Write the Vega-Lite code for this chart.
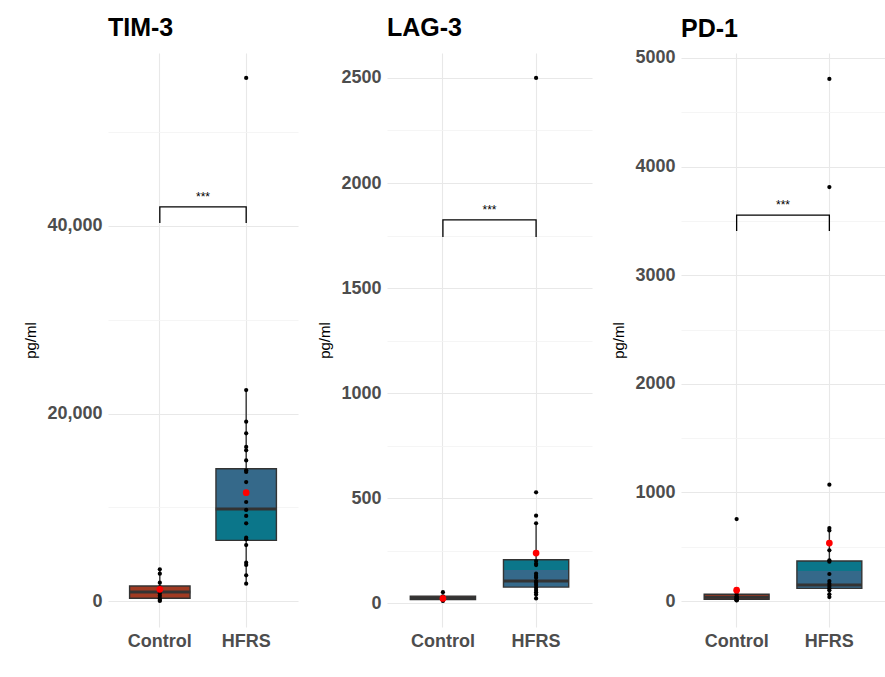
{
  "$schema": "https://vega.github.io/schema/vega-lite/v6.json",
  "background": "white",
  "padding": {"left": 23, "top": 16, "right": 0, "bottom": 0},
  "spacing": 19,
  "datasets": {
    "points": [
      {"m": "TIM-3", "g": "Control", "v": 3380}, {"m": "TIM-3", "g": "Control", "v": 2910}, {"m": "TIM-3", "g": "Control", "v": 1950}, {"m": "TIM-3", "g": "Control", "v": 1450}, {"m": "TIM-3", "g": "Control", "v": 1100}, {"m": "TIM-3", "g": "Control", "v": 800}, {"m": "TIM-3", "g": "Control", "v": 550}, {"m": "TIM-3", "g": "Control", "v": 300}, {"m": "TIM-3", "g": "Control", "v": 120}, {"m": "TIM-3", "g": "Control", "v": 0},
      {"m": "TIM-3", "g": "HFRS", "v": 55790}, {"m": "TIM-3", "g": "HFRS", "v": 22500}, {"m": "TIM-3", "g": "HFRS", "v": 19130}, {"m": "TIM-3", "g": "HFRS", "v": 17890}, {"m": "TIM-3", "g": "HFRS", "v": 16430}, {"m": "TIM-3", "g": "HFRS", "v": 16070}, {"m": "TIM-3", "g": "HFRS", "v": 15000}, {"m": "TIM-3", "g": "HFRS", "v": 13940}, {"m": "TIM-3", "g": "HFRS", "v": 13760}, {"m": "TIM-3", "g": "HFRS", "v": 12690}, {"m": "TIM-3", "g": "HFRS", "v": 10560}, {"m": "TIM-3", "g": "HFRS", "v": 9710}, {"m": "TIM-3", "g": "HFRS", "v": 9070}, {"m": "TIM-3", "g": "HFRS", "v": 8290}, {"m": "TIM-3", "g": "HFRS", "v": 6750}, {"m": "TIM-3", "g": "HFRS", "v": 6580}, {"m": "TIM-3", "g": "HFRS", "v": 5970}, {"m": "TIM-3", "g": "HFRS", "v": 4090}, {"m": "TIM-3", "g": "HFRS", "v": 3840}, {"m": "TIM-3", "g": "HFRS", "v": 2740}, {"m": "TIM-3", "g": "HFRS", "v": 1850},
      {"m": "LAG-3", "g": "Control", "v": 52}, {"m": "LAG-3", "g": "Control", "v": 32}, {"m": "LAG-3", "g": "Control", "v": 27}, {"m": "LAG-3", "g": "Control", "v": 24}, {"m": "LAG-3", "g": "Control", "v": 21}, {"m": "LAG-3", "g": "Control", "v": 18}, {"m": "LAG-3", "g": "Control", "v": 15}, {"m": "LAG-3", "g": "Control", "v": 12}, {"m": "LAG-3", "g": "Control", "v": 10},
      {"m": "LAG-3", "g": "HFRS", "v": 2500}, {"m": "LAG-3", "g": "HFRS", "v": 527}, {"m": "LAG-3", "g": "HFRS", "v": 416}, {"m": "LAG-3", "g": "HFRS", "v": 380}, {"m": "LAG-3", "g": "HFRS", "v": 200}, {"m": "LAG-3", "g": "HFRS", "v": 187}, {"m": "LAG-3", "g": "HFRS", "v": 181}, {"m": "LAG-3", "g": "HFRS", "v": 140}, {"m": "LAG-3", "g": "HFRS", "v": 129}, {"m": "LAG-3", "g": "HFRS", "v": 121}, {"m": "LAG-3", "g": "HFRS", "v": 105}, {"m": "LAG-3", "g": "HFRS", "v": 97}, {"m": "LAG-3", "g": "HFRS", "v": 86}, {"m": "LAG-3", "g": "HFRS", "v": 73}, {"m": "LAG-3", "g": "HFRS", "v": 62}, {"m": "LAG-3", "g": "HFRS", "v": 52}, {"m": "LAG-3", "g": "HFRS", "v": 41}, {"m": "LAG-3", "g": "HFRS", "v": 22},
      {"m": "PD-1", "g": "Control", "v": 755}, {"m": "PD-1", "g": "Control", "v": 62}, {"m": "PD-1", "g": "Control", "v": 45}, {"m": "PD-1", "g": "Control", "v": 35}, {"m": "PD-1", "g": "Control", "v": 25}, {"m": "PD-1", "g": "Control", "v": 18}, {"m": "PD-1", "g": "Control", "v": 12}, {"m": "PD-1", "g": "Control", "v": 8}, {"m": "PD-1", "g": "Control", "v": 5},
      {"m": "PD-1", "g": "HFRS", "v": 4807}, {"m": "PD-1", "g": "HFRS", "v": 3812}, {"m": "PD-1", "g": "HFRS", "v": 1071}, {"m": "PD-1", "g": "HFRS", "v": 672}, {"m": "PD-1", "g": "HFRS", "v": 650}, {"m": "PD-1", "g": "HFRS", "v": 467}, {"m": "PD-1", "g": "HFRS", "v": 375}, {"m": "PD-1", "g": "HFRS", "v": 362}, {"m": "PD-1", "g": "HFRS", "v": 249}, {"m": "PD-1", "g": "HFRS", "v": 184}, {"m": "PD-1", "g": "HFRS", "v": 160}, {"m": "PD-1", "g": "HFRS", "v": 138}, {"m": "PD-1", "g": "HFRS", "v": 117}, {"m": "PD-1", "g": "HFRS", "v": 99}, {"m": "PD-1", "g": "HFRS", "v": 62}, {"m": "PD-1", "g": "HFRS", "v": 37}
    ],
    "boxes": [
      {"m": "TIM-3", "g": "Control", "lo": 0, "q1": 290, "med": 960, "q3": 1600, "hi": 3380, "mean": 1250},
      {"m": "TIM-3", "g": "HFRS", "lo": 1850, "q1": 6470, "med": 9810, "q3": 14110, "hi": 22500, "mean": 11550},
      {"m": "LAG-3", "g": "Control", "lo": 10, "q1": 17, "med": 25, "q3": 33, "hi": 33, "mean": 22},
      {"m": "LAG-3", "g": "HFRS", "lo": 22, "q1": 76, "med": 105, "q3": 206, "hi": 380, "mean": 238},
      {"m": "PD-1", "g": "Control", "lo": 5, "q1": 16, "med": 35, "q3": 62, "hi": 62, "mean": 100},
      {"m": "PD-1", "g": "HFRS", "lo": 37, "q1": 117, "med": 147, "q3": 368, "hi": 672, "mean": 534}
    ],
    "bands": [
      {"m": "TIM-3", "g": "Control", "part": "ctrl", "a": 290, "b": 1600},
      {"m": "TIM-3", "g": "HFRS", "part": "teal", "a": 6470, "b": 9810},
      {"m": "TIM-3", "g": "HFRS", "part": "steel", "a": 9810, "b": 14110},
      {"m": "LAG-3", "g": "Control", "part": "ctrl", "a": 17, "b": 33},
      {"m": "LAG-3", "g": "HFRS", "part": "steel", "a": 76, "b": 157},
      {"m": "LAG-3", "g": "HFRS", "part": "teal", "a": 157, "b": 206},
      {"m": "PD-1", "g": "Control", "part": "ctrl", "a": 16, "b": 62},
      {"m": "PD-1", "g": "HFRS", "part": "steel", "a": 117, "b": 276},
      {"m": "PD-1", "g": "HFRS", "part": "teal", "a": 276, "b": 368}
    ],
    "brackets": [
      {"m": "TIM-3", "g": "Control", "v": 40320, "o": 1}, {"m": "TIM-3", "g": "Control", "v": 42030, "o": 2}, {"m": "TIM-3", "g": "HFRS", "v": 42030, "o": 3}, {"m": "TIM-3", "g": "HFRS", "v": 40320, "o": 4},
      {"m": "LAG-3", "g": "Control", "v": 1743, "o": 1}, {"m": "LAG-3", "g": "Control", "v": 1824, "o": 2}, {"m": "LAG-3", "g": "HFRS", "v": 1824, "o": 3}, {"m": "LAG-3", "g": "HFRS", "v": 1743, "o": 4},
      {"m": "PD-1", "g": "Control", "v": 3407, "o": 1}, {"m": "PD-1", "g": "Control", "v": 3554, "o": 2}, {"m": "PD-1", "g": "HFRS", "v": 3554, "o": 3}, {"m": "PD-1", "g": "HFRS", "v": 3407, "o": 4}
    ],
    "sig": [
      {"m": "TIM-3", "g": "Control", "v": 42030, "label": "***"},
      {"m": "LAG-3", "g": "Control", "v": 1824, "label": "***"},
      {"m": "PD-1", "g": "Control", "v": 3554, "label": "***"}
    ]
  },
  "hconcat": [
    {
      "title": {"text": "TIM-3", "offset": 12},
      "width": 190,
      "height": 574,
      "encoding": {
        "x": {"field": "g", "type": "nominal", "title": null, "scale": {"domain": ["Control", "HFRS"], "paddingInner": 0.3, "paddingOuter": 0.25}},
        "y": {"type": "quantitative", "title": "pg/ml", "scale": {"domain": [-2773, 58453], "nice": false, "zero": false},
          "axis": {"values": [0, 10000, 20000, 30000, 40000, 50000], "format": ",d", "labelExpr": "datum.value % 20000 === 0 ? datum.label : ''",
            "gridColor": {"condition": {"test": "datum.value % 20000 === 0", "value": "#e8e8e8"}, "value": "#f3f3f3"},
            "gridWidth": {"condition": {"test": "datum.value % 20000 === 0", "value": 1.1}, "value": 0.8}}}
      },
      "layer": [
        {"data": {"name": "boxes"}, "transform": [{"filter": "datum.m === 'TIM-3'"}], "mark": {"type": "rule", "color": "#333333", "strokeWidth": 1.4}, "encoding": {"y": {"field": "lo", "type": "quantitative", "title": "pg/ml"}, "y2": {"field": "hi"}}},
        {"data": {"name": "bands"}, "transform": [{"filter": "datum.m === 'TIM-3'"}], "mark": {"type": "rect"}, "encoding": {"y": {"field": "a", "type": "quantitative", "title": "pg/ml"}, "y2": {"field": "b"}, "fill": {"field": "part", "type": "nominal", "legend": null, "scale": {"domain": ["ctrl", "teal", "steel"], "range": ["#a03a22", "#0b768a", "#35698a"]}}}},
        {"data": {"name": "boxes"}, "transform": [{"filter": "datum.m === 'TIM-3'"}], "mark": {"type": "rect", "fillOpacity": 0, "stroke": "#333333", "strokeWidth": 1.4}, "encoding": {"y": {"field": "q1", "type": "quantitative", "title": "pg/ml"}, "y2": {"field": "q3"}}},
        {"data": {"name": "boxes"}, "transform": [{"filter": "datum.m === 'TIM-3'"}], "mark": {"type": "tick", "color": "#333333", "thickness": 3, "size": 61, "opacity": 1}, "encoding": {"y": {"field": "med", "type": "quantitative", "title": "pg/ml"}}},
        {"data": {"name": "points"}, "transform": [{"filter": "datum.m === 'TIM-3'"}], "mark": {"type": "circle", "color": "black", "size": 18, "opacity": 1}, "encoding": {"y": {"field": "v", "type": "quantitative", "title": "pg/ml"}}},
        {"data": {"name": "boxes"}, "transform": [{"filter": "datum.m === 'TIM-3'"}], "mark": {"type": "circle", "color": "#ff0000", "size": 45, "opacity": 1}, "encoding": {"y": {"field": "mean", "type": "quantitative", "title": "pg/ml"}}},
        {"data": {"name": "brackets"}, "transform": [{"filter": "datum.m === 'TIM-3'"}], "mark": {"type": "line", "color": "black", "strokeWidth": 1.3}, "encoding": {"y": {"field": "v", "type": "quantitative", "title": "pg/ml"}, "order": {"field": "o"}}},
        {"data": {"name": "sig"}, "transform": [{"filter": "datum.m === 'TIM-3'"}], "mark": {"type": "text", "fontSize": 12, "dy": -6, "baseline": "alphabetic", "color": "black"}, "encoding": {"x": {"field": "g", "type": "nominal", "bandPosition": 1.2143}, "y": {"field": "v", "type": "quantitative", "title": "pg/ml"}, "text": {"field": "label"}}}
      ]
    },
    {
      "title": {"text": "LAG-3", "offset": 12},
      "width": 205,
      "height": 574,
      "encoding": {
        "x": {"field": "g", "type": "nominal", "title": null, "scale": {"domain": ["Control", "HFRS"], "paddingInner": 0.3, "paddingOuter": 0.25}},
        "y": {"type": "quantitative", "title": "pg/ml", "scale": {"domain": [-114, 2619], "nice": false, "zero": false},
          "axis": {"values": [0, 250, 500, 750, 1000, 1250, 1500, 1750, 2000, 2250, 2500], "format": "d", "labelExpr": "datum.value % 500 === 0 ? datum.label : ''",
            "gridColor": {"condition": {"test": "datum.value % 500 === 0", "value": "#e8e8e8"}, "value": "#f3f3f3"},
            "gridWidth": {"condition": {"test": "datum.value % 500 === 0", "value": 1.1}, "value": 0.8}}}
      },
      "layer": [
        {"data": {"name": "boxes"}, "transform": [{"filter": "datum.m === 'LAG-3'"}], "mark": {"type": "rule", "color": "#333333", "strokeWidth": 1.4}, "encoding": {"y": {"field": "lo", "type": "quantitative", "title": "pg/ml"}, "y2": {"field": "hi"}}},
        {"data": {"name": "bands"}, "transform": [{"filter": "datum.m === 'LAG-3'"}], "mark": {"type": "rect"}, "encoding": {"y": {"field": "a", "type": "quantitative", "title": "pg/ml"}, "y2": {"field": "b"}, "fill": {"field": "part", "type": "nominal", "legend": null, "scale": {"domain": ["ctrl", "teal", "steel"], "range": ["#a03a22", "#0b768a", "#35698a"]}}}},
        {"data": {"name": "boxes"}, "transform": [{"filter": "datum.m === 'LAG-3'"}], "mark": {"type": "rect", "fillOpacity": 0, "stroke": "#333333", "strokeWidth": 1.4}, "encoding": {"y": {"field": "q1", "type": "quantitative", "title": "pg/ml"}, "y2": {"field": "q3"}}},
        {"data": {"name": "boxes"}, "transform": [{"filter": "datum.m === 'LAG-3'"}], "mark": {"type": "tick", "color": "#333333", "thickness": 3, "size": 65, "opacity": 1}, "encoding": {"y": {"field": "med", "type": "quantitative", "title": "pg/ml"}}},
        {"data": {"name": "points"}, "transform": [{"filter": "datum.m === 'LAG-3'"}], "mark": {"type": "circle", "color": "black", "size": 18, "opacity": 1}, "encoding": {"y": {"field": "v", "type": "quantitative", "title": "pg/ml"}}},
        {"data": {"name": "boxes"}, "transform": [{"filter": "datum.m === 'LAG-3'"}], "mark": {"type": "circle", "color": "#ff0000", "size": 45, "opacity": 1}, "encoding": {"y": {"field": "mean", "type": "quantitative", "title": "pg/ml"}}},
        {"data": {"name": "brackets"}, "transform": [{"filter": "datum.m === 'LAG-3'"}], "mark": {"type": "line", "color": "black", "strokeWidth": 1.3}, "encoding": {"y": {"field": "v", "type": "quantitative", "title": "pg/ml"}, "order": {"field": "o"}}},
        {"data": {"name": "sig"}, "transform": [{"filter": "datum.m === 'LAG-3'"}], "mark": {"type": "text", "fontSize": 12, "dy": -6, "baseline": "alphabetic", "color": "black"}, "encoding": {"x": {"field": "g", "type": "nominal", "bandPosition": 1.2143}, "y": {"field": "v", "type": "quantitative", "title": "pg/ml"}, "text": {"field": "label"}}}
      ]
    },
    {
      "title": {"text": "PD-1", "offset": 7},
      "width": 204,
      "height": 574,
      "encoding": {
        "x": {"field": "g", "type": "nominal", "title": null, "scale": {"domain": ["Control", "HFRS"], "paddingInner": 0.3, "paddingOuter": 0.25}},
        "y": {"type": "quantitative", "title": "pg/ml", "scale": {"domain": [-239, 5046], "nice": false, "zero": false},
          "axis": {"values": [0, 500, 1000, 1500, 2000, 2500, 3000, 3500, 4000, 4500, 5000], "format": "d", "labelExpr": "datum.value % 1000 === 0 ? datum.label : ''",
            "gridColor": {"condition": {"test": "datum.value % 1000 === 0", "value": "#e8e8e8"}, "value": "#f3f3f3"},
            "gridWidth": {"condition": {"test": "datum.value % 1000 === 0", "value": 1.1}, "value": 0.8}}}
      },
      "layer": [
        {"data": {"name": "boxes"}, "transform": [{"filter": "datum.m === 'PD-1'"}], "mark": {"type": "rule", "color": "#333333", "strokeWidth": 1.4}, "encoding": {"y": {"field": "lo", "type": "quantitative", "title": "pg/ml"}, "y2": {"field": "hi"}}},
        {"data": {"name": "bands"}, "transform": [{"filter": "datum.m === 'PD-1'"}], "mark": {"type": "rect"}, "encoding": {"y": {"field": "a", "type": "quantitative", "title": "pg/ml"}, "y2": {"field": "b"}, "fill": {"field": "part", "type": "nominal", "legend": null, "scale": {"domain": ["ctrl", "teal", "steel"], "range": ["#a03a22", "#0b768a", "#35698a"]}}}},
        {"data": {"name": "boxes"}, "transform": [{"filter": "datum.m === 'PD-1'"}], "mark": {"type": "rect", "fillOpacity": 0, "stroke": "#333333", "strokeWidth": 1.4}, "encoding": {"y": {"field": "q1", "type": "quantitative", "title": "pg/ml"}, "y2": {"field": "q3"}}},
        {"data": {"name": "boxes"}, "transform": [{"filter": "datum.m === 'PD-1'"}], "mark": {"type": "tick", "color": "#333333", "thickness": 3, "size": 65, "opacity": 1}, "encoding": {"y": {"field": "med", "type": "quantitative", "title": "pg/ml"}}},
        {"data": {"name": "points"}, "transform": [{"filter": "datum.m === 'PD-1'"}], "mark": {"type": "circle", "color": "black", "size": 18, "opacity": 1}, "encoding": {"y": {"field": "v", "type": "quantitative", "title": "pg/ml"}}},
        {"data": {"name": "boxes"}, "transform": [{"filter": "datum.m === 'PD-1'"}], "mark": {"type": "circle", "color": "#ff0000", "size": 45, "opacity": 1}, "encoding": {"y": {"field": "mean", "type": "quantitative", "title": "pg/ml"}}},
        {"data": {"name": "brackets"}, "transform": [{"filter": "datum.m === 'PD-1'"}], "mark": {"type": "line", "color": "black", "strokeWidth": 1.3}, "encoding": {"y": {"field": "v", "type": "quantitative", "title": "pg/ml"}, "order": {"field": "o"}}},
        {"data": {"name": "sig"}, "transform": [{"filter": "datum.m === 'PD-1'"}], "mark": {"type": "text", "fontSize": 12, "dy": -6, "baseline": "alphabetic", "color": "black"}, "encoding": {"x": {"field": "g", "type": "nominal", "bandPosition": 1.2143}, "y": {"field": "v", "type": "quantitative", "title": "pg/ml"}, "text": {"field": "label"}}}
      ]
    }
  ],
  "config": {
    "font": "Liberation Sans",
    "view": {"stroke": null},
    "title": {"anchor": "start", "frame": "group", "fontSize": 25, "fontWeight": "bold", "color": "#000000", "font": "Liberation Sans", "baseline": "alphabetic"},
    "axisX": {"labelAngle": 0, "labelFont": "Liberation Sans", "labelFontSize": 18, "labelFontWeight": "bold", "labelColor": "#4d4d4d", "ticks": false, "domain": false, "grid": true, "gridColor": "#e8e8e8", "gridWidth": 1.1, "bandPosition": 0.5, "labelPadding": 5},
    "axisY": {"labelFont": "Liberation Sans", "labelFontSize": 18, "labelFontWeight": "bold", "labelColor": "#4d4d4d", "ticks": false, "domain": false, "grid": true, "labelPadding": 6, "titleFont": "Liberation Sans", "titleFontSize": 15, "titleFontWeight": "normal", "titleColor": "#000000", "titlePadding": 8}
  }
}
